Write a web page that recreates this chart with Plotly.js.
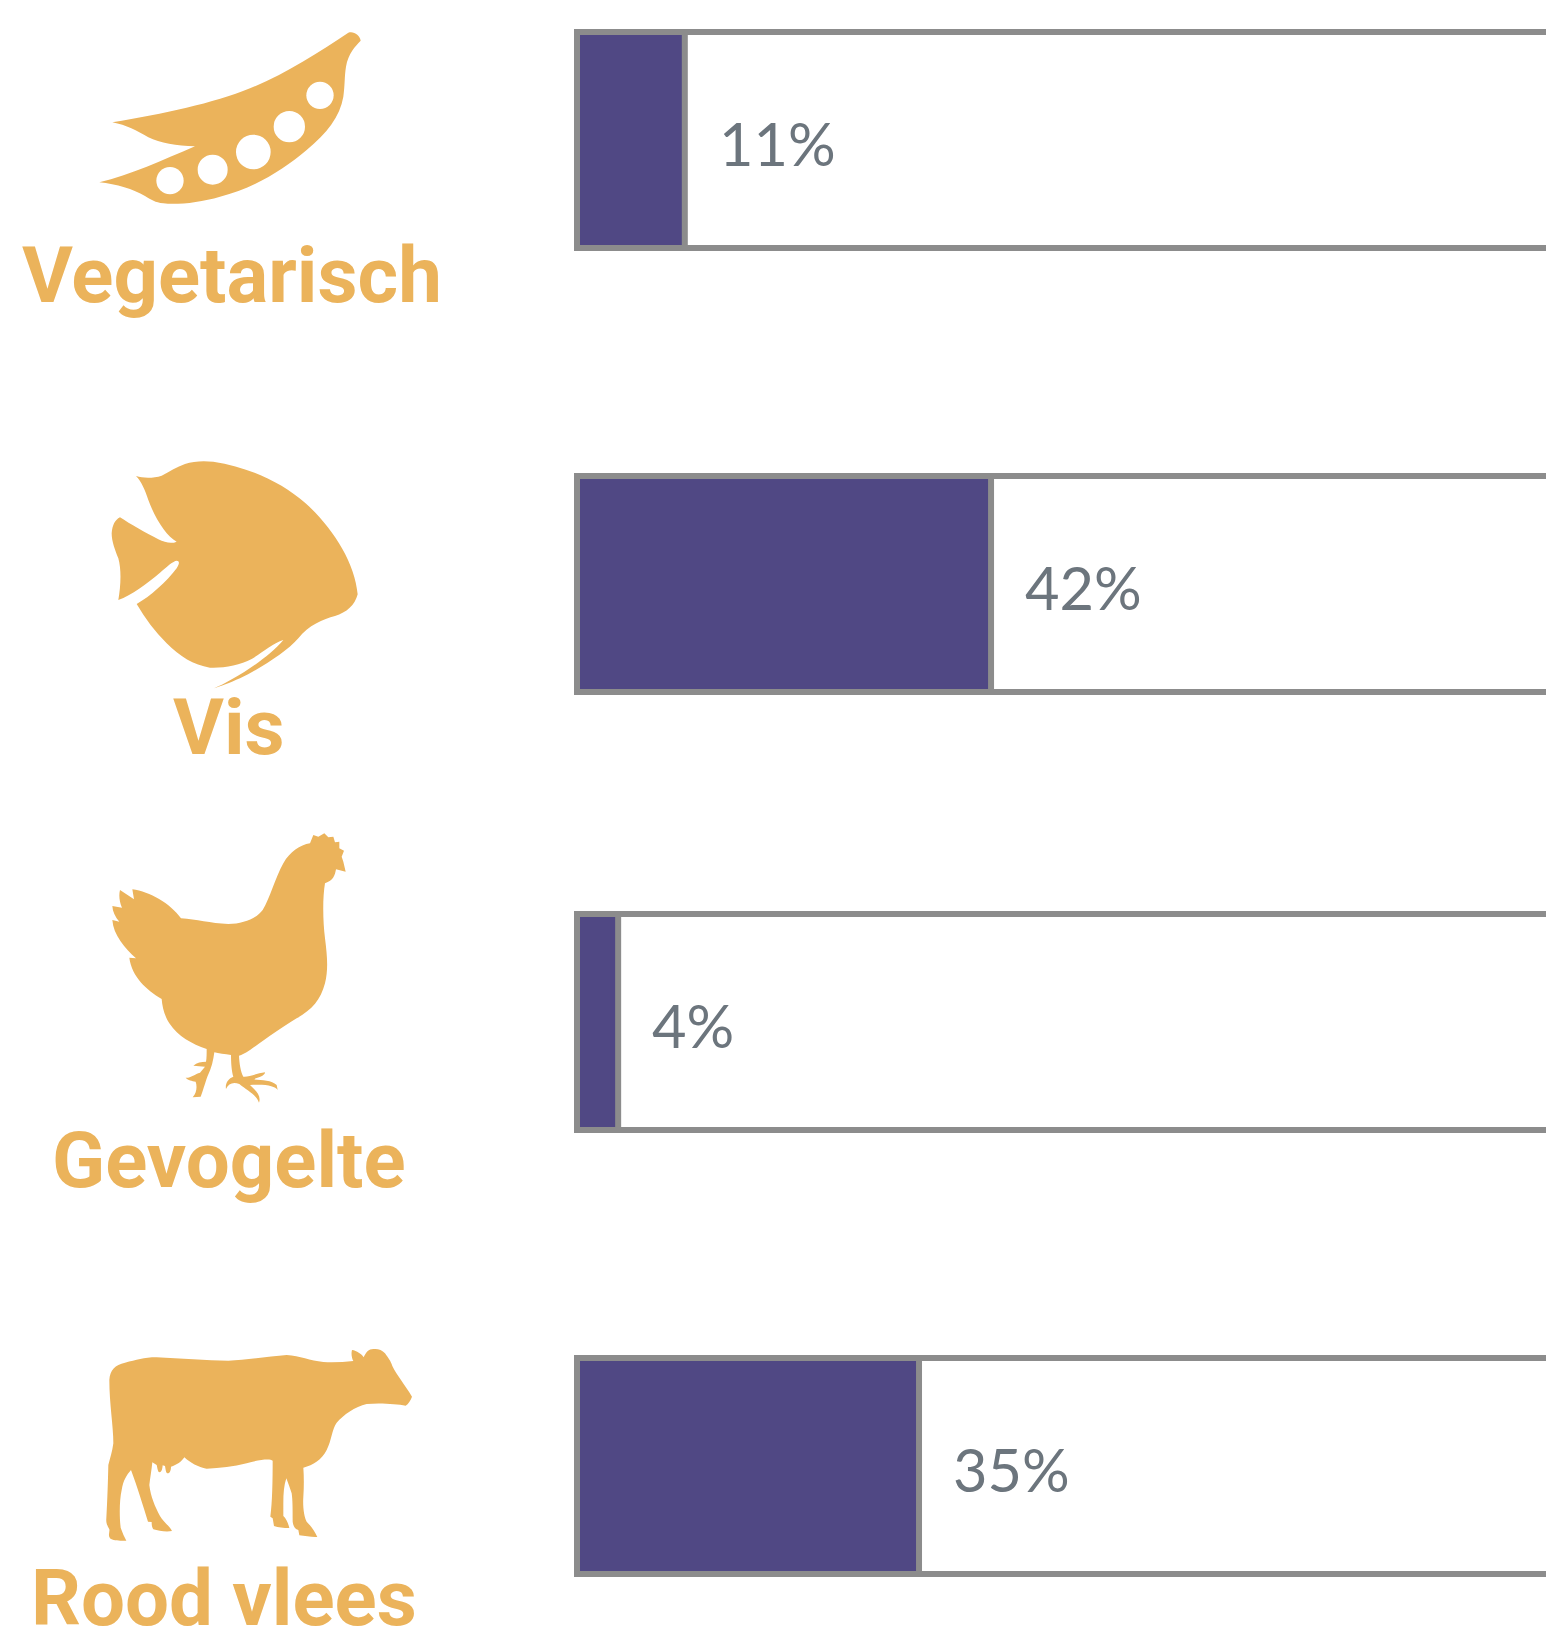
<!DOCTYPE html>
<html>
<head>
<meta charset="utf-8">
<script src="https://cdn.plot.ly/plotly-3.0.1.min.js"></script>
<style>html,body{margin:0;padding:0;background:#fff;overflow:hidden}#chart{width:1546px;height:1629px}</style>
</head>
<body>
<div id="chart"></div>
<script>
const categories = ["Vegetarisch", "Vis", "Gevogelte", "Rood vlees"];
const percentLabels = [11, 42, 4, 35];
// bar lengths (the printed labels are rounded)
const barLengths = [11, 42.25, 4.2, 34.9];
const trackTotal = [100, 100, 100, 100];

// layout (page pixels)
const W = 1546, H = 1629;
const rowCenters = [140, 584, 1022, 1466];
const labelCenterX = [232, 229, 228.5, 224];
const labelCenterY = [275, 727, 1160, 1598];
const zeroPx = 577, pxPerPct = 9.8;

const GOLD = "#EBB35B", PURPLE = "#504884", GREY = "#8C8C8C", TEXT = "#6C757D";

const px = x => x / W, py = y => 1 - y / H;
function place(path, ox, oy, s) {
  let i = 0;
  return path.replace(/-?\d+(\.\d+)?/g, n => {
    const isX = (i++ % 2) === 0;
    return isX ? px(ox + Number(n) / s).toFixed(5) : py(oy + Number(n) / s).toFixed(5);
  });
}
function iconShape(path, ox, oy, s) {
  return {type: "path", xref: "paper", yref: "paper", layer: "above",
          path: place(path, ox, oy, s), fillcolor: GOLD, line: {width: 0}};
}
function hole(cx, cy, r, ox, oy, s) {
  return {type: "circle", xref: "paper", yref: "paper", layer: "above",
          x0: px(ox + (cx - r) / s), x1: px(ox + (cx + r) / s),
          y0: py(oy + (cy + r) / s), y1: py(oy + (cy - r) / s),
          fillcolor: "#FFFFFF", line: {width: 0}};
}

const peaPath = "M97,337 C250,312 400,280 510,235 C610,195 720,125 805,68 C820,62 840,75 842,92 C825,110 805,130 798,170 C793,200 795,225 790,260 C780,320 740,370 680,420 C610,480 520,535 420,560 C360,578 290,585 250,580 C225,577 215,570 195,558 C160,538 110,522 58,517 C150,495 250,450 345,409 C290,407 240,400 205,382 C170,362 140,345 97,337 Z";
const peas = [[720,256,41],[628,350,47],[520,426,52],[398,479,45],[270,512,41]];
const fishPath = "M228,138 C250,145 280,145 305,137 C330,125 350,110 375,102 C400,93 430,92 460,95 C570,112 665,158 735,218 C815,290 885,395 893,493 C885,525 860,548 825,558 C790,568 745,585 715,625 C680,665 610,710 540,745 C510,758 480,770 462,775 C510,755 620,690 670,630 C640,640 610,665 575,687 C540,705 490,715 450,713 C400,705 360,680 320,640 C285,605 255,565 230,522 C270,500 320,455 350,415 C360,400 358,392 350,392 C340,393 320,410 300,428 C260,462 215,495 175,510 C182,470 185,420 175,385 C165,360 155,335 155,310 C157,285 165,270 180,262 C210,282 260,310 295,328 C315,338 335,342 350,335 C320,320 285,265 265,210 C255,180 245,155 228,138 Z";
const henPath = "M690,100 L700,75 L715,80 L733,70 L745,82 L760,80 L765,97 L778,95 L778,115 L792,122 L785,140 L790,155 L797,185 L768,178 C765,195 760,212 735,220 C728,260 728,330 735,385 C742,440 745,480 735,520 C722,570 695,600 650,625 C600,655 560,685 510,720 C495,730 485,735 477,737 C478,760 482,785 490,800 C505,802 530,790 555,787 C555,795 545,800 520,808 C545,810 575,810 590,825 L593,840 C585,828 560,822 510,825 C525,840 545,855 537,878 C530,855 500,840 478,822 C460,815 445,820 438,837 C435,820 445,805 460,800 C455,785 453,760 453,735 C435,733 415,730 403,727 C400,750 395,775 382,800 C375,820 368,845 362,860 L338,862 C350,850 352,830 347,815 C335,812 325,812 317,803 C330,805 345,792 360,788 L375,770 L340,767 C350,758 365,755 378,755 C380,745 380,730 380,717 C335,702 295,680 268,640 C252,615 247,590 245,567 C200,540 155,500 148,443 L168,445 C135,415 100,375 97,330 L118,335 C105,320 98,305 97,288 L126,293 C118,275 116,255 120,240 L162,268 L157,238 C210,245 270,280 303,325 C350,328 390,340 445,342 C490,342 530,325 548,300 C570,265 585,205 610,160 C630,125 660,105 690,100 Z";
const cowPath = "M88,150 C90,120 105,105 135,98 C170,90 190,82 230,82 C300,85 380,92 445,92 C500,88 570,80 620,75 C660,77 690,92 730,96 C760,98 790,96 820,93 C815,85 813,70 816,60 C830,62 845,72 851,82 C857,70 862,60 875,58 C890,55 905,58 915,70 C925,85 932,92 937,108 C950,135 975,165 996,200 C992,212 985,222 977,227 C950,222 900,218 860,222 C825,230 790,255 770,278 C755,300 755,330 740,360 C725,390 700,405 670,413 C672,440 672,470 670,500 C668,530 672,560 680,575 C695,590 705,605 712,621 C695,622 675,618 658,616 L655,600 C645,598 640,590 638,575 C638,540 638,510 635,490 C630,475 625,460 619,445 C612,465 610,490 610,520 L610,558 C618,565 625,580 628,594 C610,594 595,593 582,588 L578,565 L571,560 C577,520 578,450 578,392 C570,385 540,388 500,400 C460,410 420,415 380,416 C355,412 330,398 313,382 C305,395 290,405 273,410 C273,420 270,430 263,430 C258,430 257,420 255,408 L248,406 C247,418 245,427 238,427 C233,425 232,412 230,405 L217,397 C215,420 210,445 208,465 C212,500 225,530 240,558 C250,575 270,590 276,603 C260,606 235,603 220,598 C215,590 215,583 215,576 L204,575 C190,530 172,470 153,420 C140,435 130,450 125,480 C118,510 118,560 122,593 C128,610 133,620 139,632 C125,633 100,633 90,625 C83,615 90,605 88,598 C80,585 78,575 79,565 C82,510 84,450 85,405 C90,385 97,365 100,340 C100,290 88,220 88,150 Z";

const shapes = [
  iconShape(peaPath, 80, 10, 3),
  ...peas.map(p => hole(p[0], p[1], p[2], 80, 10, 3)),
  iconShape(fishPath, 60, 430, 3),
  iconShape(henPath, 80, 810, 3),
  iconShape(cowPath, 80, 1330, 3)
];

const track = {
  type: "bar", orientation: "h", x: trackTotal, y: rowCenters, width: 216,
  marker: {color: "#FFFFFF", line: {color: GREY, width: 6}},
  hoverinfo: "skip", showlegend: false
};
const share = {
  type: "bar", orientation: "h", x: barLengths, y: rowCenters, width: 216,
  marker: {color: PURPLE, line: {color: GREY, width: 6}},
  customdata: categories, hovertemplate: "%{customdata}: %{x}%<extra></extra>", showlegend: false
};

const valueLabels = percentLabels.map((v, i) => ({
  xref: "x", yref: "y", x: barLengths[i], y: rowCenters[i], xanchor: "left", yanchor: "middle",
  xshift: 32, yshift: -3, showarrow: false, text: v + "%",
  font: {family: "Lato", size: 59.5, color: TEXT, weight: 400}
}));
const categoryLabels = categories.map((c, i) => ({
  xref: "paper", yref: "paper", x: px(labelCenterX[i]), y: py(labelCenterY[i]),
  xanchor: "center", yanchor: "middle", showarrow: false, text: c,
  font: {family: "Roboto", size: 78, color: GOLD, weight: 700}
}));

Plotly.newPlot("chart", [track, share], {
  width: W, height: H, margin: {l: 0, r: 0, t: 0, b: 0, pad: 0},
  paper_bgcolor: "#FFFFFF", plot_bgcolor: "#FFFFFF",
  barmode: "overlay", showlegend: false,
  xaxis: {range: [-zeroPx / pxPerPct, (W - zeroPx) / pxPerPct], visible: false, fixedrange: true},
  yaxis: {range: [H, 0], visible: false, fixedrange: true},
  shapes: shapes,
  annotations: valueLabels.concat(categoryLabels)
}, {displayModeBar: false});
</script>
</body>
</html>
